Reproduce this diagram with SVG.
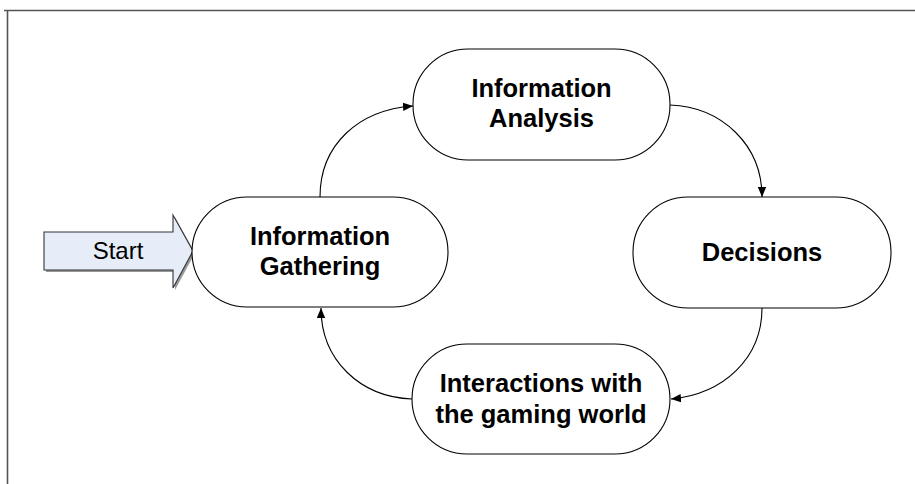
<svg xmlns="http://www.w3.org/2000/svg" width="915" height="484" viewBox="0 0 915 484">
<style>
.node{fill:#fff;stroke:#000;stroke-width:1.1}
.lbl{font-family:"Liberation Sans",Arial,sans-serif;font-weight:bold;font-size:25.5px;text-anchor:middle;fill:#000}
.conn{fill:none;stroke:#000;stroke-width:1.1}
.frame{fill:none;stroke:#555;stroke-width:1.6}
</style>
<defs>
<marker id="ah" viewBox="0 0 10 10" refX="10" refY="5" markerWidth="10" markerHeight="10" markerUnits="userSpaceOnUse" orient="auto">
<path d="M0,0.8 L10,5 L0,9.2 Z" fill="#000"/>
</marker>
</defs>
<path class="frame" d="M4,10.5 H915 M7.5,10 V484"/>
<g id="start">
<polygon points="46,234 175,234 175,217 195,253 175,290 175,272 46,272" fill="#999"/>
<polygon points="44,232 173,232 173,215 193,251 173,288 173,270 44,270" fill="#E6EDF8" stroke="#333" stroke-width="1.1"/>
<text x="118" y="259" font-family="'Liberation Sans',Arial,sans-serif" font-size="24" text-anchor="middle">Start</text>
</g>
<g id="gathering">
<rect class="node" x="192" y="197" width="256" height="110" rx="55" ry="55"/>
<text class="lbl" x="320" y="245">Information</text>
<text class="lbl" x="320" y="275">Gathering</text>
</g>
<g id="analysis">
<rect class="node" x="413" y="49" width="257" height="111" rx="55" ry="55"/>
<text class="lbl" x="541.5" y="97">Information</text>
<text class="lbl" x="541.5" y="127">Analysis</text>
</g>
<g id="decisions">
<rect class="node" x="633" y="197" width="258" height="111" rx="55" ry="55"/>
<text class="lbl" x="762" y="261">Decisions</text>
</g>
<g id="interactions">
<rect class="node" x="412" y="344" width="258" height="110" rx="55" ry="55"/>
<text class="lbl" x="541" y="392">Interactions with</text>
<text class="lbl" x="541" y="423">the gaming world</text>
</g>
<g id="connectors">
<path class="conn" marker-end="url(#ah)" d="M320,197 C320,145 358,110 413,106"/>
<path class="conn" marker-end="url(#ah)" d="M670,105 C722,107 762,145 762,197"/>
<path class="conn" marker-end="url(#ah)" d="M762,308 C762,358 724,394 671,399"/>
<path class="conn" marker-end="url(#ah)" d="M412,399 C360,397 321,360 321,308"/>
</g>
</svg>
